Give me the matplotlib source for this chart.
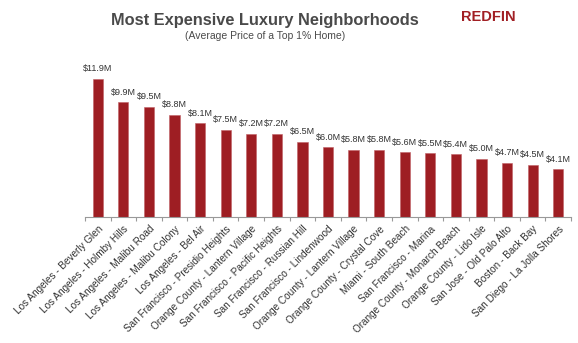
import matplotlib.pyplot as plt
import numpy as np

plt.rcParams['font.family'] = ['Liberation Sans', 'DejaVu Sans']

neighborhoods = ['Los Angeles - Beverly Glen', 'Los Angeles - Holmby Hills',
                 'Los Angeles - Malibu Road', 'Los Angeles - Malibu Colony',
                 'Los Angeles - Bel Air', 'San Francisco - Presidio Heights',
                 'Orange County - Lantern Village', 'San Francisco - Pacific Heights',
                 'San Francisco - Russian Hill', 'San Francisco - Lindenwood',
                 'Orange County - Lantern Village', 'Orange County - Crystal Cove',
                 'Miami - South Beach', 'San Francisco - Marina',
                 'Orange County - Monarch Beach', 'Orange County - Lido Isle',
                 'San Jose - Old Palo Alto', 'Boston - Back Bay',
                 'San Diego - La Jolla Shores']
prices = [11.9, 9.9, 9.5, 8.8, 8.1, 7.5, 7.2, 7.2, 6.5, 6.0,
          5.8, 5.8, 5.6, 5.5, 5.4, 5.0, 4.7, 4.5, 4.1]

bar_color = '#9e1e23'
text_gray = '#4a4a4a'

fig = plt.figure(figsize=(5.78, 3.43), dpi=100)
ax = fig.add_axes([85 / 578, (343 - 217) / 343, 486 / 578, 155 / 343])

x = np.arange(len(prices))
ax.bar(x, prices, width=0.4, color=bar_color, edgecolor='#c06065', linewidth=0.4)

for xi, p in zip(x, prices):
    ax.annotate(f'${p:.1f}M', (xi, p), xytext=(0, 4), textcoords='offset points',
                ha='center', va='bottom', fontsize=6.5, color='#333333')

ax.set_xlim(-0.5, len(prices) - 0.5)
ax.set_ylim(0, 13.37)

ax.set_xticks(x)
ax.set_xticklabels(neighborhoods, rotation=45, ha='right', rotation_mode='anchor',
                   fontsize=7.2, color='#333333')
ax.tick_params(axis='x', which='major', length=0, pad=5)
ax.set_xticks(np.arange(len(prices) + 1) - 0.5, minor=True)
ax.tick_params(axis='x', which='minor', length=3, color='#999999', width=0.8)
ax.set_yticks([])

for side in ['top', 'right', 'left']:
    ax.spines[side].set_visible(False)
ax.spines['bottom'].set_color('#999999')
ax.spines['bottom'].set_linewidth(0.8)

fig.text(265 / 578, 1 - 20 / 343, 'Most Expensive Luxury Neighborhoods',
         ha='center', va='center', fontsize=11.8, fontweight='bold', color=text_gray)
fig.text(265 / 578, 1 - 36 / 343, '(Average Price of a Top 1% Home)',
         ha='center', va='center', fontsize=7.5, color=text_gray)
fig.text(488 / 578, 1 - 17 / 343, 'REDFIN', ha='center', va='center',
         fontsize=10.5, fontweight='bold', color='#a11f24')

fig.savefig('out.png', dpi=100)
